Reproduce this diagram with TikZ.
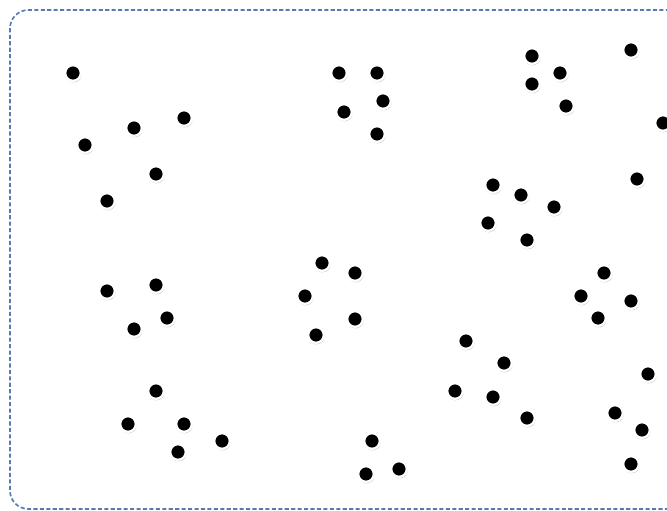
\documentclass[tikz,border=0pt]{standalone}
\usepackage{tikz}
\usepackage{xcolor}
\usetikzlibrary{shadows}
\definecolor{FrameBlue}{HTML}{5A79B0}
\tikzset{
    % dashed frame round the field
    field frame/.style={
        draw=FrameBlue,
        dash pattern=on 3.5pt off 2pt,
        line width=1.4pt,
        rounded corners=0.55cm
    },
    % one particle
    particle/.style={
        circle,
        fill=black,
        draw=white,
        line width=0.07cm,
        minimum size=0.47cm,
        inner sep=0pt,
        circular drop shadow={shadow xshift=0.3pt, shadow yshift=-0.9pt, shadow scale=1.08, fill=black!45, opacity=0.55}
    }
}
\begin{document}
\begin{tikzpicture}[x=0.03cm, y=-0.03cm]
        \useasboundingbox (0,0) rectangle (667,511);
        \clip (0,0) rectangle (667,511);

        % Frame
        \draw[field frame] (10,10) rectangle (690,509);

        % Particles
        \foreach \px/\py [count=\i] in {
            73/73, 134/128, 184/118, 85/145, 156/174, 107/201,
            339/73, 377/73, 383/101, 344/112, 377/134,
            532/56, 560/73, 532/84, 566/106, 631/50, 663/123,
            637/179, 493/185, 521/195, 554/207, 488/223, 527/240,
            107/291, 156/285, 167/318, 134/329,
            322/263, 355/273, 305/296, 355/319, 316/335,
            604/273, 581/296, 631/301, 598/318,
            466/341, 504/363, 455/391, 493/397, 527/418,
            648/374, 615/413, 642/430, 631/464,
            156/391, 128/424, 184/424, 222/441, 178/452,
            372/441, 399/469, 366/474}
            \node[particle] (p\i) at (\px,\py) {};
\end{tikzpicture}
\end{document}
